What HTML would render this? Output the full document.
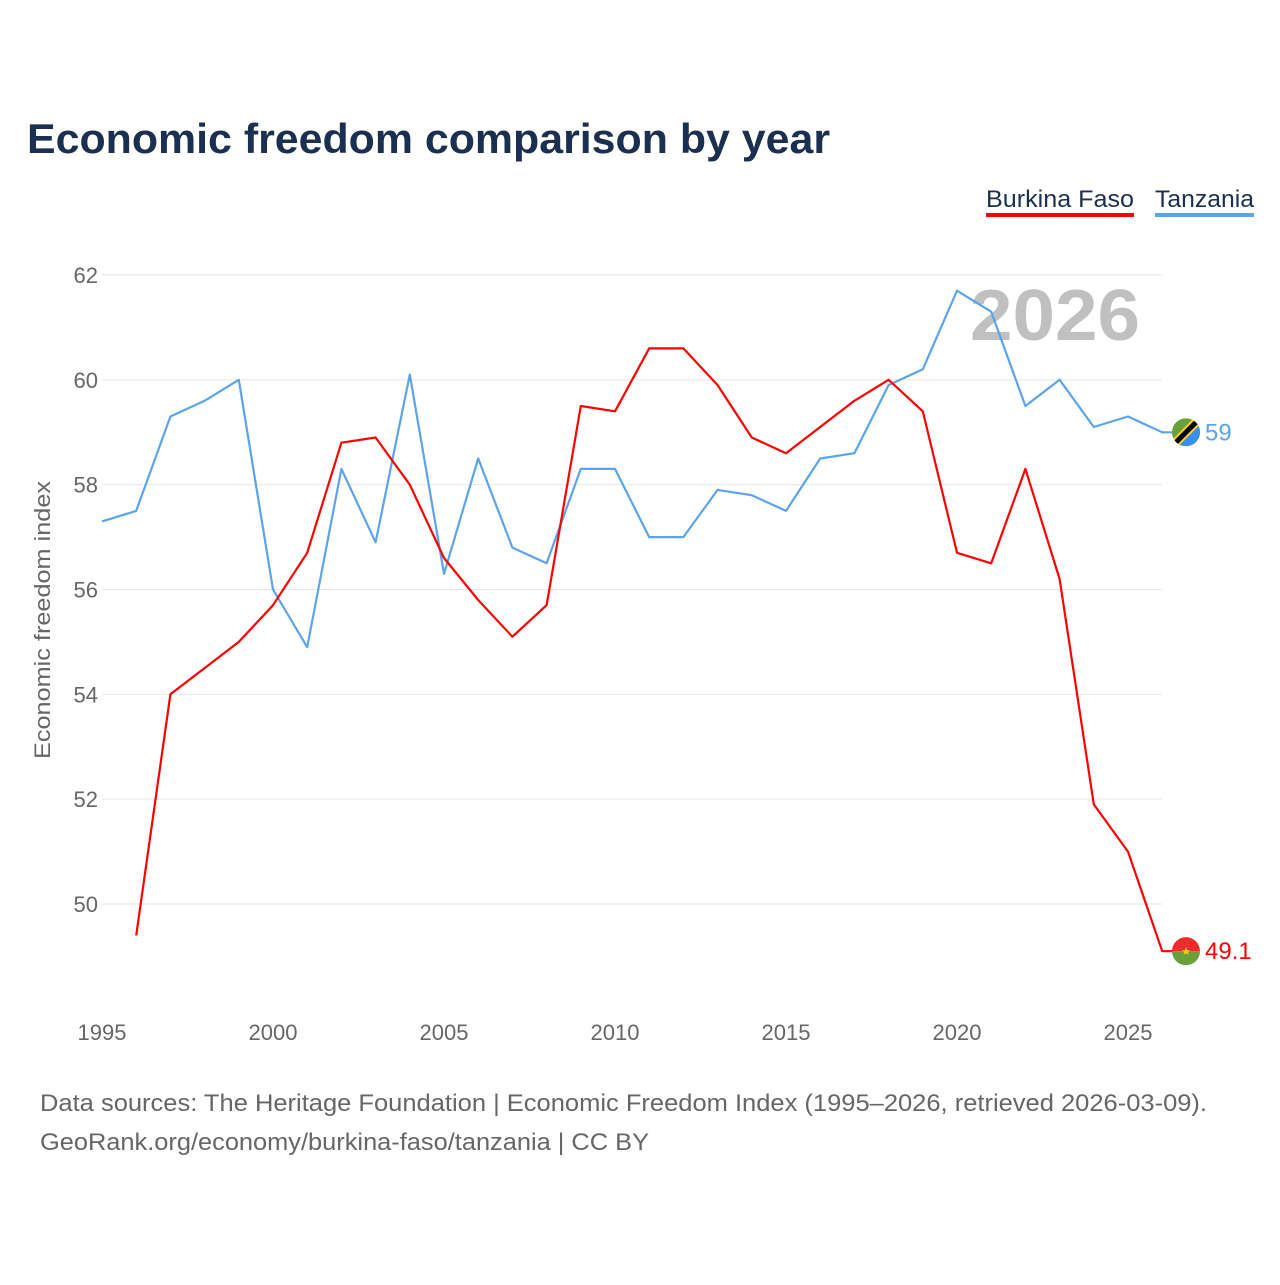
<!DOCTYPE html>
<html><head><meta charset="utf-8">
<style>
body{margin:0;background:#fff;font-family:"Liberation Sans",sans-serif;}
svg text{font-family:"Liberation Sans",sans-serif;}
</style></head>
<body>
<svg id="chart" width="1280" height="1280" viewBox="0 0 1280 1280">
<text x="27" y="153" font-size="42" font-weight="bold" fill="#1b2f50" textLength="803" lengthAdjust="spacingAndGlyphs">Economic freedom comparison by year</text>
<g>
<text x="986" y="207" font-size="24" fill="#1b2f50" textLength="148" lengthAdjust="spacingAndGlyphs">Burkina Faso</text>
<rect x="986" y="213" width="148" height="4" fill="#ff0000"/></g>
<g>
<text x="1155" y="207" font-size="24" fill="#1b2f50" textLength="99" lengthAdjust="spacingAndGlyphs">Tanzania</text>
<rect x="1155" y="213" width="99" height="4" fill="#5ba4e9"/></g>
<text x="1055" y="340" text-anchor="middle" font-size="72" font-weight="bold" fill="#c0c0c0" textLength="170" lengthAdjust="spacingAndGlyphs">2026</text>
<text transform="translate(50,620) rotate(-90)" text-anchor="middle" font-size="22" fill="#666" textLength="278" lengthAdjust="spacingAndGlyphs">Economic freedom index</text>
<g id="grid"></g><g id="series"></g><g id="ends"></g>
<text x="40" y="1111" font-size="24" fill="#666" textLength="1167" lengthAdjust="spacingAndGlyphs">Data sources: The Heritage Foundation | Economic Freedom Index (1995–2026, retrieved 2026-03-09).</text>
<text x="40" y="1150" font-size="24" fill="#666" textLength="609" lengthAdjust="spacingAndGlyphs">GeoRank.org/economy/burkina-faso/tanzania | CC BY</text>
</svg>
<script>
const years=[1995,1996,1997,1998,1999,2000,2001,2002,2003,2004,2005,2006,2007,2008,2009,2010,2011,2012,2013,2014,2015,2016,2017,2018,2019,2020,2021,2022,2023,2024,2025,2026];
const tanzania=[57.3,57.5,59.3,59.6,60.0,56.0,54.9,58.3,56.9,60.1,56.3,58.5,56.8,56.5,58.3,58.3,57.0,57.0,57.9,57.8,57.5,58.5,58.6,59.9,60.2,61.7,61.3,59.5,60.0,59.1,59.3,59.0];
const burkina=[null,49.4,54.0,54.5,55.0,55.7,56.7,58.8,58.9,58.0,56.6,55.8,55.1,55.7,59.5,59.4,60.6,60.6,59.9,58.9,58.6,59.1,59.6,60.0,59.4,56.7,56.5,58.3,56.2,51.9,51.0,49.1];
const yTicks=[50,52,54,56,58,60,62];
const xTicks=[1995,2000,2005,2010,2015,2020,2025];
const NS="http://www.w3.org/2000/svg";
const X=y=>102+(y-1995)*(1128-102)/30;
const Y=v=>904-(v-50)*(904-275)/12;
function mk(t,a,p){const e=document.createElementNS(NS,t);for(const k in a)e.setAttribute(k,a[k]);p.appendChild(e);return e;}
const grid=document.getElementById('grid');
yTicks.forEach(v=>{
 const l=mk('line',{x1:102,x2:1162,y1:Y(v),y2:Y(v),stroke:'#e6e6e6','stroke-width':1},grid);
 
 
 const t=mk('text',{x:98,y:Y(v)+8,'text-anchor':'end','font-size':22,fill:'#666'},grid);t.textContent=v;
 
 
});
xTicks.forEach(v=>{
 const t=mk('text',{x:X(v),y:1040,'text-anchor':'middle','font-size':22,fill:'#666'},grid);t.textContent=v;
 
 
});
const ser=document.getElementById('series');
function path(vals,color,name){
 let d='';let pen=false;
 vals.forEach((v,i)=>{if(v==null){pen=false;return;}d+=(pen?'L':'M')+X(years[i]).toFixed(1)+','+Y(v).toFixed(1);pen=true;});
 d+='h12';
 const p=mk('path',{d:d,fill:'none',stroke:color,'stroke-width':2.2,'stroke-linejoin':'round'},ser);
 
 
}
path(tanzania,'#5ba4e9','line-tanzania');
path(burkina,'#ff0000','line-burkina-faso');
const ends=document.getElementById('ends');
const tv=tanzania[tanzania.length-1],bv=burkina[burkina.length-1];
const tg=mk('g',{},ends);


const ty=Y(tv),cx=1186;
const cp=mk('clipPath',{id:'ct'},tg);
mk('circle',{cx:cx,cy:ty,r:14},cp);
const ti=mk('g',{'clip-path':'url(#ct)'},tg);
mk('rect',{x:cx-14,y:ty-14,width:28,height:28,fill:'#6a9f3b'},ti);
mk('polygon',{points:`${cx+14},${ty-14} ${cx+14},${ty+14} ${cx-14},${ty+14}`,fill:'#3a8ef0'},ti);
mk('line',{x1:cx-16,y1:ty+16,x2:cx+16,y2:ty-16,stroke:'#fcd116','stroke-width':9},ti);
mk('line',{x1:cx-16,y1:ty+16,x2:cx+16,y2:ty-16,stroke:'#000','stroke-width':5},ti);
const tt=mk('text',{x:1205,y:ty+8,'font-size':24,fill:'#5ba4e9'},ends);tt.textContent=tv;


const bg=mk('g',{},ends);


const by=Y(bv);
mk('path',{d:`M${cx-14},${by} A14,14 0 0 1 ${cx+14},${by} Z`,fill:'#ef2b2d'},bg);
mk('path',{d:`M${cx-14},${by} A14,14 0 0 0 ${cx+14},${by} Z`,fill:'#6a9f3b'},bg);
const st=mk('text',{x:cx,y:by+4,'text-anchor':'middle','font-size':11,fill:'#fcd116'},bg);st.textContent='★';
const bt=mk('text',{x:1205,y:by+8,'font-size':24,fill:'#ff0000'},ends);bt.textContent=bv;


</script>
</body></html>
